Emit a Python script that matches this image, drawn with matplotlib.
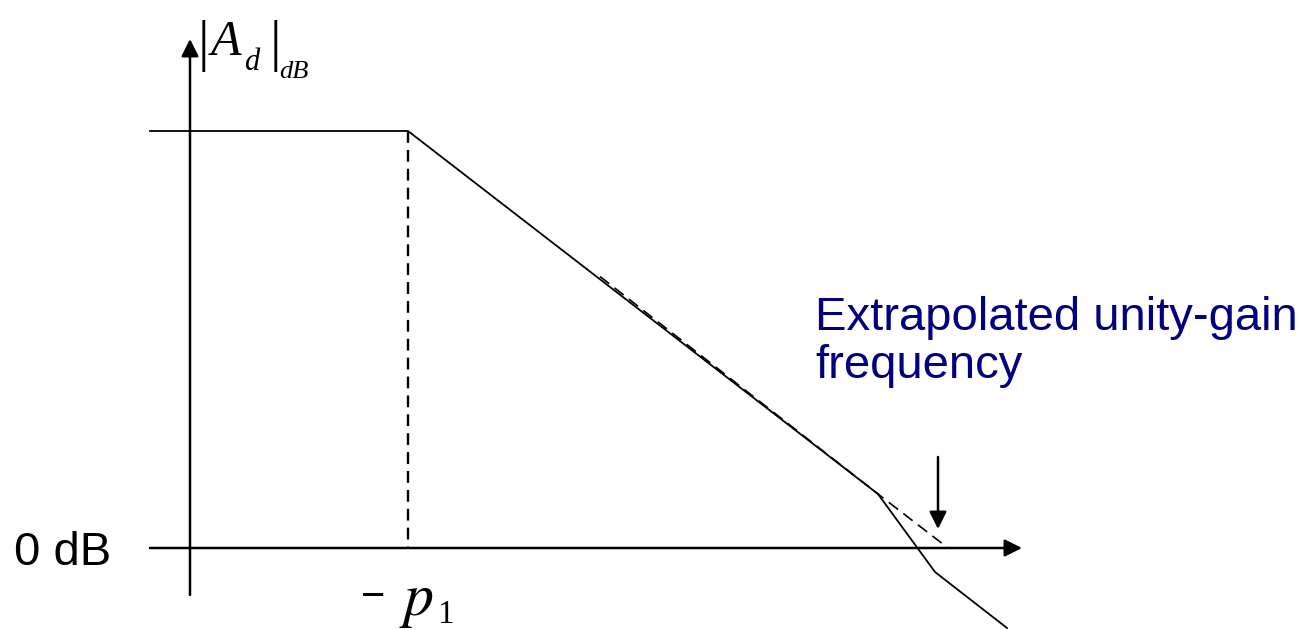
import matplotlib
matplotlib.use("Agg")
import matplotlib.pyplot as plt

# layout in pixel units of the original sketch (y grows downward)
x_axis = [150, 1022]
y_axis = [595, 39]
zero_db = 548
axis_x0 = 190

# asymptotic magnitude response: flat, -20 dB/dec, then steeper past 2nd pole
resp_x = [150, 408, 878, 935, 1007]
resp_y = [131, 131, 494, 572, 628]

# dominant pole marker and extrapolated -20 dB/dec line
pole_x = [408, 408]
pole_y = [131, 548]
extrap_x = [600, 878, 948]
extrap_y = [276.5, 494, 548]

# arrow pointing to the extrapolated unity-gain frequency
ugf_arrow_x = 938
ugf_arrow_y = [457, 529]

plt.rcParams["mathtext.fontset"] = "stix"

fig = plt.figure(figsize=(13.07, 6.30), dpi=100)
ax = fig.add_axes([0, 0, 1, 1])
ax.set_xlim(0, 1307)
ax.set_ylim(630, 0)
ax.axis("off")

arrow_style = dict(arrowstyle="-|>", color="black", lw=1.8,
                   mutation_scale=26, shrinkA=0, shrinkB=0)

# axes with arrow heads
ax.annotate("", xy=(x_axis[1], zero_db), xytext=(x_axis[0], zero_db),
            arrowprops=arrow_style)
ax.annotate("", xy=(axis_x0, y_axis[1]), xytext=(axis_x0, y_axis[0]),
            arrowprops=arrow_style)

ax.plot(resp_x, resp_y, color="black", lw=1.3)
ax.plot(pole_x, pole_y, color="black", lw=1.7, ls=(0, (5, 3)))
ax.plot(extrap_x, extrap_y, color="black", lw=1.2, ls=(0, (7, 4)))

ax.annotate("", xy=(ugf_arrow_x, ugf_arrow_y[1]),
            xytext=(ugf_arrow_x, ugf_arrow_y[0]), arrowprops=arrow_style)

# labels
ax.text(815, 330, "Extrapolated unity-gain", color="#000080",
        fontsize=34, family="Liberation Sans", ha="left", va="baseline")
ax.text(815, 378, "frequency", color="#000080",
        fontsize=34, family="Liberation Sans", ha="left", va="baseline")
ax.text(14, 565, "0 dB", color="black", fontsize=34,
        family="Liberation Sans", ha="left", va="baseline")

# -p1 under the pole marker
ax.text(373, 597, "\u2212", color="black", fontsize=30,
        family="Liberation Sans", ha="center", va="center")
ax.text(399, 615, r"$p$", color="black", fontsize=43, ha="left",
        va="baseline")
ax.text(437, 630, "1", color="black", fontsize=24, family="Liberation Serif",
        ha="left", va="bottom")

# |A_d|_dB on the vertical axis
serif = dict(color="black", family="Liberation Serif", style="italic",
             ha="left", va="baseline")
ax.text(203, 46, "|", color="black", fontsize=42, family="Liberation Serif",
        ha="center", va="center")
ax.text(211, 55, "A", fontsize=36, **serif)
ax.text(244, 70, "d", fontsize=22, **serif)
ax.text(275, 46, "|", color="black", fontsize=42, family="Liberation Serif",
        ha="center", va="center")
ax.text(279, 78, "dB", fontsize=19, **serif)

fig.savefig("out.png", dpi=100)
